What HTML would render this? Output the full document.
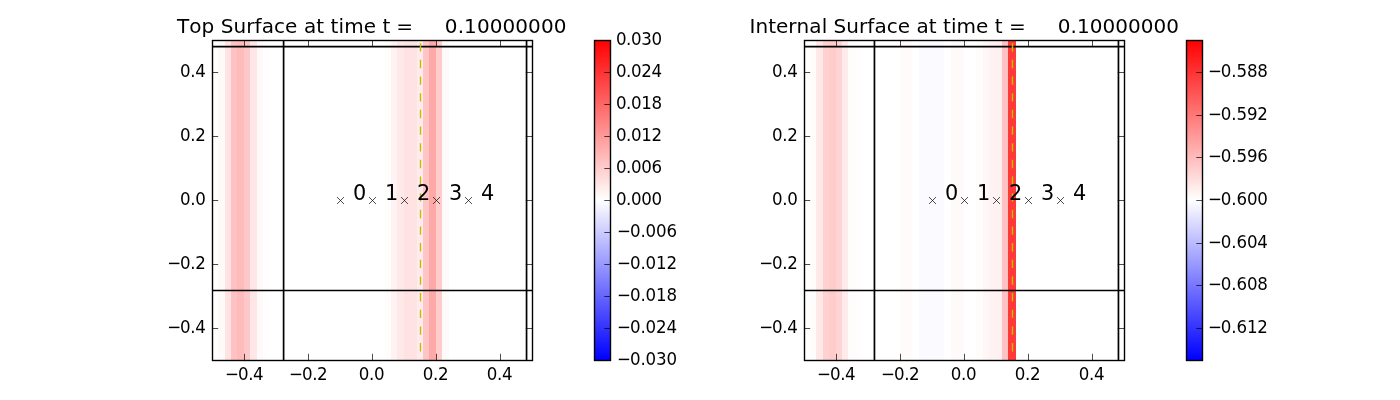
<!DOCTYPE html>
<html><head><meta charset="utf-8"><title>Surface plots</title>
<style>html,body{margin:0;padding:0;background:#fff}body{width:1400px;height:400px;overflow:hidden}svg{display:block}text{white-space:pre;font-kerning:none}</style></head>
<body>
<svg width="1400" height="400" viewBox="0 0 1400 400" font-family="'DejaVu Sans', 'Liberation Sans', sans-serif" font-size="16.67" fill="#000">
<defs><linearGradient id="cb" x1="0" y1="0" x2="0" y2="1"><stop offset="0" stop-color="#ff0000"/><stop offset="0.5" stop-color="#ffffff"/><stop offset="1" stop-color="#0000ff"/></linearGradient></defs>
<g>
<g shape-rendering="crispEdges">
<rect x="218" y="40" width="7" height="320" fill="rgb(255,250,250)"/>
<rect x="225" y="40" width="6" height="320" fill="rgb(255,227,227)"/>
<rect x="231" y="40" width="6" height="320" fill="rgb(255,194,194)"/>
<rect x="237" y="40" width="7" height="320" fill="rgb(255,187,187)"/>
<rect x="244" y="40" width="6" height="320" fill="rgb(255,200,200)"/>
<rect x="250" y="40" width="7" height="320" fill="rgb(255,231,231)"/>
<rect x="257" y="40" width="6" height="320" fill="rgb(255,250,250)"/>
<rect x="263" y="40" width="6" height="320" fill="rgb(255,253,253)"/>
<rect x="385" y="40" width="6" height="320" fill="rgb(255,252,252)"/>
<rect x="391" y="40" width="6" height="320" fill="rgb(255,242,242)"/>
<rect x="397" y="40" width="7" height="320" fill="rgb(255,232,232)"/>
<rect x="404" y="40" width="6" height="320" fill="rgb(255,227,227)"/>
<rect x="410" y="40" width="7" height="320" fill="rgb(255,227,227)"/>
<rect x="417" y="40" width="6" height="320" fill="rgb(255,235,235)"/>
<rect x="423" y="40" width="6" height="320" fill="rgb(255,196,196)"/>
<rect x="429" y="40" width="7" height="320" fill="rgb(255,168,168)"/>
<rect x="436" y="40" width="6" height="320" fill="rgb(255,204,204)"/>
<rect x="442" y="40" width="7" height="320" fill="rgb(255,250,250)"/>
</g>
<line x1="283.60" y1="40" x2="283.60" y2="360" stroke="#000" stroke-width="1.7"/>
<line x1="526.55" y1="40" x2="526.55" y2="360" stroke="#000" stroke-width="1.7"/>
<line x1="212" y1="46.7" x2="532" y2="46.7" stroke="#000" stroke-width="1.7"/>
<line x1="212" y1="290.5" x2="532" y2="290.5" stroke="#000" stroke-width="1.7"/>
<line x1="420.5" y1="43.20" x2="420.5" y2="360.00" stroke="#bfbf00" stroke-width="1.39" stroke-dasharray="8.33 8.33"/>
<path d="M337.03 197.03L343.97 203.97M337.03 203.97L343.97 197.03" stroke="#000" stroke-width="0.69" fill="none"/>
<text x="353.05" y="200.30" font-size="20.83">0</text>
<path d="M369.03 197.03L375.97 203.97M369.03 203.97L375.97 197.03" stroke="#000" stroke-width="0.69" fill="none"/>
<text x="385.05" y="200.30" font-size="20.83">1</text>
<path d="M401.03 197.03L407.97 203.97M401.03 203.97L407.97 197.03" stroke="#000" stroke-width="0.69" fill="none"/>
<text x="417.05" y="200.30" font-size="20.83">2</text>
<path d="M433.03 197.03L439.97 203.97M433.03 203.97L439.97 197.03" stroke="#000" stroke-width="0.69" fill="none"/>
<text x="449.05" y="200.30" font-size="20.83">3</text>
<path d="M465.03 197.03L471.97 203.97M465.03 203.97L471.97 197.03" stroke="#000" stroke-width="0.69" fill="none"/>
<text x="481.05" y="200.30" font-size="20.83">4</text>
<path d="M244.5 360v-6.2M244.5 40v6.2M212 328.5h6.2M532 328.5h-6.2" stroke="#000" stroke-width="0.7" fill="none"/>
<text transform="translate(244.10 380) scale(1 1.07)" text-anchor="middle" letter-spacing="-0.4"><tspan letter-spacing="-1.0">−</tspan>0.4</text>
<text transform="translate(205.40 332.90) scale(1 1.07)" text-anchor="end" letter-spacing="-0.4"><tspan letter-spacing="-1.0">−</tspan>0.4</text>
<path d="M308.5 360v-6.2M308.5 40v6.2M212 264.5h6.2M532 264.5h-6.2" stroke="#000" stroke-width="0.7" fill="none"/>
<text transform="translate(308.10 380) scale(1 1.07)" text-anchor="middle" letter-spacing="-0.4"><tspan letter-spacing="-1.0">−</tspan>0.2</text>
<text transform="translate(205.40 268.90) scale(1 1.07)" text-anchor="end" letter-spacing="-0.4"><tspan letter-spacing="-1.0">−</tspan>0.2</text>
<path d="M372.5 360v-6.2M372.5 40v6.2M212 200.5h6.2M532 200.5h-6.2" stroke="#000" stroke-width="0.7" fill="none"/>
<text transform="translate(371.47 380) scale(1 1.07)" text-anchor="middle" letter-spacing="-0.4">0.0</text>
<text transform="translate(205.40 204.90) scale(1 1.07)" text-anchor="end" letter-spacing="-0.4">0.0</text>
<path d="M436.5 360v-6.2M436.5 40v6.2M212 136.5h6.2M532 136.5h-6.2" stroke="#000" stroke-width="0.7" fill="none"/>
<text transform="translate(435.47 380) scale(1 1.07)" text-anchor="middle" letter-spacing="-0.4">0.2</text>
<text transform="translate(205.40 140.90) scale(1 1.07)" text-anchor="end" letter-spacing="-0.4">0.2</text>
<path d="M500.5 360v-6.2M500.5 40v6.2M212 72.5h6.2M532 72.5h-6.2" stroke="#000" stroke-width="0.7" fill="none"/>
<text transform="translate(499.47 380) scale(1 1.07)" text-anchor="middle" letter-spacing="-0.4">0.4</text>
<text transform="translate(205.40 76.90) scale(1 1.07)" text-anchor="end" letter-spacing="-0.4">0.4</text>
<rect x="212.5" y="40.5" width="320" height="320" fill="none" stroke="#000" stroke-width="1.39"/>
<text x="177.0" y="32.5" font-size="20" letter-spacing="0.073" xml:space="preserve">Top Surface at time t <tspan dx="-0.7">=</tspan>     <tspan dx="-0.3">0</tspan>.10000000</text>
<rect x="594" y="40" width="16" height="320" fill="url(#cb)" shape-rendering="crispEdges"/>
<rect x="594.5" y="40.5" width="16" height="320" fill="none" stroke="#000" stroke-width="1.39"/>
<path d="M610.5 40.5h-6.2" stroke="#000" stroke-width="0.7" fill="none"/>
<text transform="translate(615.90 44.90) scale(1 1.07)" letter-spacing="-0.4">0.030</text>
<path d="M610.5 72.5h-6.2" stroke="#000" stroke-width="0.7" fill="none"/>
<text transform="translate(615.90 76.90) scale(1 1.07)" letter-spacing="-0.4">0.024</text>
<path d="M610.5 104.5h-6.2" stroke="#000" stroke-width="0.7" fill="none"/>
<text transform="translate(615.90 108.90) scale(1 1.07)" letter-spacing="-0.4">0.018</text>
<path d="M610.5 136.5h-6.2" stroke="#000" stroke-width="0.7" fill="none"/>
<text transform="translate(615.90 140.90) scale(1 1.07)" letter-spacing="-0.4">0.012</text>
<path d="M610.5 168.5h-6.2" stroke="#000" stroke-width="0.7" fill="none"/>
<text transform="translate(615.90 172.90) scale(1 1.07)" letter-spacing="-0.4">0.006</text>
<path d="M610.5 200.5h-6.2" stroke="#000" stroke-width="0.7" fill="none"/>
<text transform="translate(615.90 204.90) scale(1 1.07)" letter-spacing="-0.4">0.000</text>
<path d="M610.5 232.5h-6.2" stroke="#000" stroke-width="0.7" fill="none"/>
<text transform="translate(617.00 236.90) scale(1 1.07)" letter-spacing="-0.15"><tspan letter-spacing="-1.0">−</tspan>0.006</text>
<path d="M610.5 264.5h-6.2" stroke="#000" stroke-width="0.7" fill="none"/>
<text transform="translate(617.00 268.90) scale(1 1.07)" letter-spacing="-0.15"><tspan letter-spacing="-1.0">−</tspan>0.012</text>
<path d="M610.5 296.5h-6.2" stroke="#000" stroke-width="0.7" fill="none"/>
<text transform="translate(617.00 300.90) scale(1 1.07)" letter-spacing="-0.15"><tspan letter-spacing="-1.0">−</tspan>0.018</text>
<path d="M610.5 328.5h-6.2" stroke="#000" stroke-width="0.7" fill="none"/>
<text transform="translate(617.00 332.90) scale(1 1.07)" letter-spacing="-0.15"><tspan letter-spacing="-1.0">−</tspan>0.024</text>
<path d="M610.5 360.5h-6.2" stroke="#000" stroke-width="0.7" fill="none"/>
<text transform="translate(617.00 364.90) scale(1 1.07)" letter-spacing="-0.15"><tspan letter-spacing="-1.0">−</tspan>0.030</text>
</g>
<g>
<g shape-rendering="crispEdges">
<rect x="810" y="40" width="6" height="320" fill="rgb(255,252,252)"/>
<rect x="816" y="40" width="7" height="320" fill="rgb(255,232,232)"/>
<rect x="823" y="40" width="6" height="320" fill="rgb(255,209,209)"/>
<rect x="829" y="40" width="7" height="320" fill="rgb(255,204,204)"/>
<rect x="836" y="40" width="6" height="320" fill="rgb(255,212,212)"/>
<rect x="842" y="40" width="6" height="320" fill="rgb(255,235,235)"/>
<rect x="848" y="40" width="7" height="320" fill="rgb(255,252,252)"/>
<rect x="855" y="40" width="6" height="320" fill="rgb(255,253,253)"/>
<rect x="900" y="40" width="6" height="320" fill="rgb(255,251,251)"/>
<rect x="906" y="40" width="6" height="320" fill="rgb(255,251,251)"/>
<rect x="919" y="40" width="6" height="320" fill="rgb(250,250,255)"/>
<rect x="925" y="40" width="7" height="320" fill="rgb(250,250,255)"/>
<rect x="932" y="40" width="6" height="320" fill="rgb(250,250,255)"/>
<rect x="938" y="40" width="6" height="320" fill="rgb(250,250,255)"/>
<rect x="951" y="40" width="6" height="320" fill="rgb(255,250,250)"/>
<rect x="957" y="40" width="7" height="320" fill="rgb(255,250,250)"/>
<rect x="976" y="40" width="7" height="320" fill="rgb(255,252,252)"/>
<rect x="983" y="40" width="6" height="320" fill="rgb(255,247,247)"/>
<rect x="989" y="40" width="7" height="320" fill="rgb(255,242,242)"/>
<rect x="996" y="40" width="6" height="320" fill="rgb(255,241,241)"/>
<rect x="1002" y="40" width="6" height="320" fill="rgb(255,194,194)"/>
<rect x="1008" y="40" width="8" height="320" fill="rgb(255,56,56)"/>
</g>
<line x1="874.45" y1="40" x2="874.45" y2="360" stroke="#000" stroke-width="1.7"/>
<line x1="1118.45" y1="40" x2="1118.45" y2="360" stroke="#000" stroke-width="1.7"/>
<line x1="804" y1="46.7" x2="1124" y2="46.7" stroke="#000" stroke-width="1.7"/>
<line x1="804" y1="290.5" x2="1124" y2="290.5" stroke="#000" stroke-width="1.7"/>
<line x1="1012.5" y1="43.20" x2="1012.5" y2="360.00" stroke="#bfbf00" stroke-width="1.39" stroke-dasharray="8.33 8.33"/>
<path d="M929.03 197.03L935.97 203.97M929.03 203.97L935.97 197.03" stroke="#000" stroke-width="0.69" fill="none"/>
<text x="945.05" y="200.30" font-size="20.83">0</text>
<path d="M961.03 197.03L967.97 203.97M961.03 203.97L967.97 197.03" stroke="#000" stroke-width="0.69" fill="none"/>
<text x="977.05" y="200.30" font-size="20.83">1</text>
<path d="M993.03 197.03L999.97 203.97M993.03 203.97L999.97 197.03" stroke="#000" stroke-width="0.69" fill="none"/>
<text x="1009.05" y="200.30" font-size="20.83">2</text>
<path d="M1025.03 197.03L1031.97 203.97M1025.03 203.97L1031.97 197.03" stroke="#000" stroke-width="0.69" fill="none"/>
<text x="1041.05" y="200.30" font-size="20.83">3</text>
<path d="M1057.03 197.03L1063.97 203.97M1057.03 203.97L1063.97 197.03" stroke="#000" stroke-width="0.69" fill="none"/>
<text x="1073.05" y="200.30" font-size="20.83">4</text>
<path d="M836.5 360v-6.2M836.5 40v6.2M804 328.5h6.2M1124 328.5h-6.2" stroke="#000" stroke-width="0.7" fill="none"/>
<text transform="translate(836.10 380) scale(1 1.07)" text-anchor="middle" letter-spacing="-0.4"><tspan letter-spacing="-1.0">−</tspan>0.4</text>
<text transform="translate(797.40 332.90) scale(1 1.07)" text-anchor="end" letter-spacing="-0.4"><tspan letter-spacing="-1.0">−</tspan>0.4</text>
<path d="M900.5 360v-6.2M900.5 40v6.2M804 264.5h6.2M1124 264.5h-6.2" stroke="#000" stroke-width="0.7" fill="none"/>
<text transform="translate(900.10 380) scale(1 1.07)" text-anchor="middle" letter-spacing="-0.4"><tspan letter-spacing="-1.0">−</tspan>0.2</text>
<text transform="translate(797.40 268.90) scale(1 1.07)" text-anchor="end" letter-spacing="-0.4"><tspan letter-spacing="-1.0">−</tspan>0.2</text>
<path d="M964.5 360v-6.2M964.5 40v6.2M804 200.5h6.2M1124 200.5h-6.2" stroke="#000" stroke-width="0.7" fill="none"/>
<text transform="translate(963.47 380) scale(1 1.07)" text-anchor="middle" letter-spacing="-0.4">0.0</text>
<text transform="translate(797.40 204.90) scale(1 1.07)" text-anchor="end" letter-spacing="-0.4">0.0</text>
<path d="M1028.5 360v-6.2M1028.5 40v6.2M804 136.5h6.2M1124 136.5h-6.2" stroke="#000" stroke-width="0.7" fill="none"/>
<text transform="translate(1027.47 380) scale(1 1.07)" text-anchor="middle" letter-spacing="-0.4">0.2</text>
<text transform="translate(797.40 140.90) scale(1 1.07)" text-anchor="end" letter-spacing="-0.4">0.2</text>
<path d="M1092.5 360v-6.2M1092.5 40v6.2M804 72.5h6.2M1124 72.5h-6.2" stroke="#000" stroke-width="0.7" fill="none"/>
<text transform="translate(1091.47 380) scale(1 1.07)" text-anchor="middle" letter-spacing="-0.4">0.4</text>
<text transform="translate(797.40 76.90) scale(1 1.07)" text-anchor="end" letter-spacing="-0.4">0.4</text>
<rect x="804.5" y="40.5" width="320" height="320" fill="none" stroke="#000" stroke-width="1.39"/>
<text x="749.5" y="32.5" font-size="20" letter-spacing="0.036" xml:space="preserve">Internal Surface at time t =     0.10000000</text>
<rect x="1186" y="40" width="16" height="320" fill="url(#cb)" shape-rendering="crispEdges"/>
<rect x="1186.5" y="40.5" width="16" height="320" fill="none" stroke="#000" stroke-width="1.39"/>
<path d="M1202.5 72.5h-6.2" stroke="#000" stroke-width="0.7" fill="none"/>
<text transform="translate(1207.90 76.90) scale(1 1.07)" letter-spacing="-0.15"><tspan letter-spacing="-1.0">−</tspan>0.588</text>
<path d="M1202.5 115.5h-6.2" stroke="#000" stroke-width="0.7" fill="none"/>
<text transform="translate(1207.90 119.57) scale(1 1.07)" letter-spacing="-0.15"><tspan letter-spacing="-1.0">−</tspan>0.592</text>
<path d="M1202.5 157.5h-6.2" stroke="#000" stroke-width="0.7" fill="none"/>
<text transform="translate(1207.90 162.23) scale(1 1.07)" letter-spacing="-0.15"><tspan letter-spacing="-1.0">−</tspan>0.596</text>
<path d="M1202.5 200.5h-6.2" stroke="#000" stroke-width="0.7" fill="none"/>
<text transform="translate(1207.90 204.90) scale(1 1.07)" letter-spacing="-0.15"><tspan letter-spacing="-1.0">−</tspan>0.600</text>
<path d="M1202.5 243.5h-6.2" stroke="#000" stroke-width="0.7" fill="none"/>
<text transform="translate(1207.90 247.57) scale(1 1.07)" letter-spacing="-0.15"><tspan letter-spacing="-1.0">−</tspan>0.604</text>
<path d="M1202.5 285.5h-6.2" stroke="#000" stroke-width="0.7" fill="none"/>
<text transform="translate(1207.90 290.24) scale(1 1.07)" letter-spacing="-0.15"><tspan letter-spacing="-1.0">−</tspan>0.608</text>
<path d="M1202.5 328.5h-6.2" stroke="#000" stroke-width="0.7" fill="none"/>
<text transform="translate(1207.90 332.90) scale(1 1.07)" letter-spacing="-0.15"><tspan letter-spacing="-1.0">−</tspan>0.612</text>
</g>
</svg>
</body></html>
